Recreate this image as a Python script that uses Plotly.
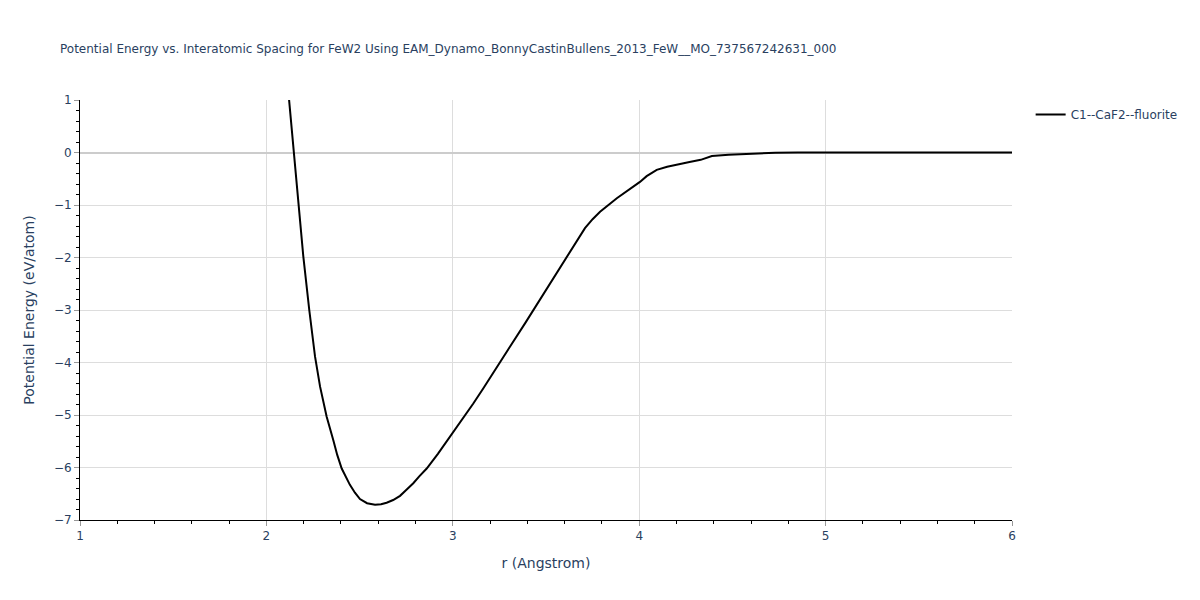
import plotly.graph_objects as go

r_values = [2.10, 2.121, 2.137, 2.153, 2.171, 2.198, 2.23, 2.261, 2.288, 2.323, 2.359, 2.38, 2.404, 2.43, 2.448, 2.475,
            2.502, 2.54, 2.583, 2.615, 2.645, 2.68, 2.717, 2.75, 2.788, 2.82, 2.86, 2.92, 2.976, 3.025, 3.074, 3.11, 3.164,
            3.24, 3.31, 3.39, 3.47, 3.53, 3.59, 3.65, 3.709, 3.75, 3.79, 3.88, 3.96, 4.004, 4.04, 4.094, 4.15, 4.21, 4.27,
            4.33, 4.39, 4.48, 4.57, 4.65, 4.73, 4.85, 5.0, 5.25, 5.5, 5.75, 6.0]
energy = [1.85, 1.0, 0.36, -0.3, -1.0, -1.98, -3.0, -3.89, -4.46, -5.03, -5.48, -5.76, -6.02, -6.22, -6.33, -6.48,
          -6.60, -6.68, -6.71, -6.70, -6.67, -6.62, -6.54, -6.43, -6.30, -6.17, -6.02, -5.74, -5.46, -5.22, -4.97, -4.78, -4.49,
          -4.08, -3.68, -3.24, -2.79, -2.45, -2.10, -1.76, -1.44, -1.27, -1.13, -0.87, -0.68, -0.56, -0.45, -0.33, -0.27, -0.22, -0.18,
          -0.14, -0.067, -0.045, -0.03, -0.015, -0.005, 0.0, 0.0, 0.0, 0.0, 0.0, 0.0]

FONT = "DejaVu Sans"
fig = go.Figure()
fig.add_trace(go.Scatter(x=r_values, y=energy, mode="lines", name="C1--CaF2--fluorite",
                         line=dict(color="black", width=2)))

axis_common = dict(showline=True, linecolor="black", linewidth=1, ticks="outside", tickcolor="#999",
                   ticklen=5, showgrid=True, gridcolor="#dddddd", gridwidth=1, mirror=False,
                   tickfont=dict(size=12, color="#2a3f5f", family=FONT))
fig.update_xaxes(range=[1, 6], dtick=1,
                 title=dict(text="r (Angstrom)", font=dict(size=14, color="#2a3f5f", family=FONT)),
                 minor=dict(ticks="outside", dtick=0.2, ticklen=3, tickcolor="black", showgrid=False),
                 zeroline=False, **axis_common)
fig.update_yaxes(range=[-7, 1], dtick=1,
                 title=dict(text="Potential Energy (eV/atom)", font=dict(size=14, color="#2a3f5f", family=FONT)),
                 minor=dict(ticks="outside", dtick=0.2, ticklen=3, tickcolor="black", showgrid=False),
                 zeroline=True, zerolinecolor="#cccccc", zerolinewidth=2, **axis_common)
fig.update_layout(
    width=1200, height=600,
    font=dict(family=FONT, color="#2a3f5f"),
    title=dict(text="Potential Energy vs. Interatomic Spacing for FeW2 Using EAM_Dynamo_BonnyCastinBullens_2013_FeW__MO_737567242631_000",
               x=0.05, y=0.925, xanchor="left", font=dict(size=12, color="#2a3f5f", family=FONT)),
    plot_bgcolor="white", paper_bgcolor="white",
    margin=dict(l=80, r=188, t=100, b=80),
    legend=dict(x=1.02, y=1, xanchor="left", yanchor="top", font=dict(size=12, color="#2a3f5f", family=FONT)),
    showlegend=True,
)
fig.write_html("out.html", config={"displayModeBar": False},
               post_script="document.body.style.margin='0';")
